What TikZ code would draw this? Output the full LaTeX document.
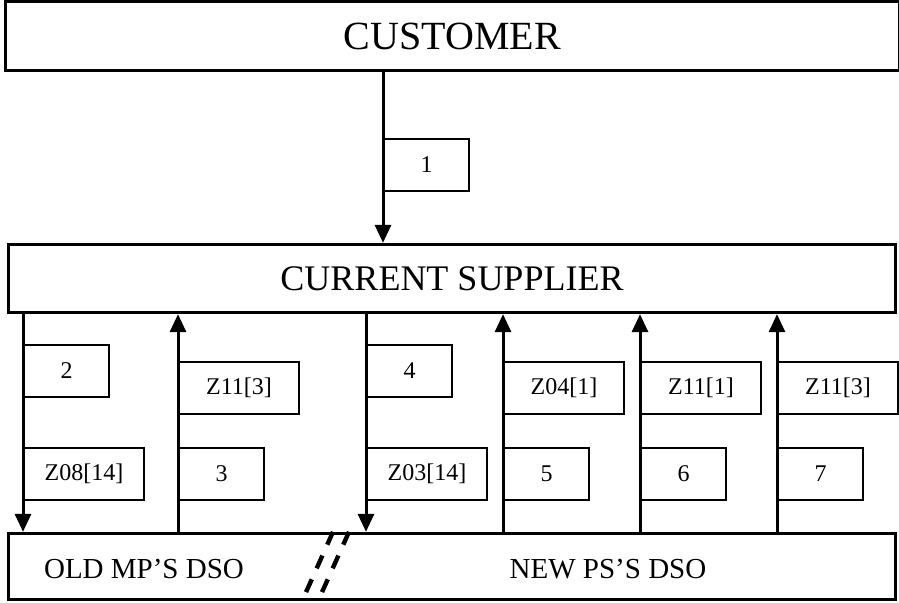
\documentclass[tikz,border=0pt]{standalone}
\usepackage{fontspec}
\setmainfont{Liberation Serif}
\usetikzlibrary{arrows.meta}
\tikzset{
party/.style={draw, line width=1.65pt, inner sep=0pt},
msg/.style={draw, line width=1pt, fill=white, inner sep=0pt, anchor=north west,
  minimum height=26pt, font=\fontsize{12}{14}\selectfont},
shortmsg/.style={msg, minimum width=42.5pt},
longmsg/.style={msg, minimum width=60pt},
flow/.style={line width=1.5pt, -{Triangle[width=8pt,length=9pt]}},
cut/.style={line width=2.2pt, dash pattern=on 7pt off 6pt}
}

\begin{document}
\begin{tikzpicture}[x=0.5pt, y=-0.5pt]
\useasboundingbox (0,0) rectangle (899,603);
% parties
\node[party, minimum width=447pt, minimum height=34.5pt, font=\fontsize{20}{24}\selectfont]
  (customer) at (452.5,36) {CUSTOMER};
\node[party, minimum width=443.5pt, minimum height=34pt, font=\fontsize{18}{22}\selectfont]
  (supplier) at (452,278.5) {CURRENT SUPPLIER};
\node[party, minimum width=443.5pt, minimum height=33pt] (dso) at (452,566.5) {};
\node[font=\fontsize{14.5}{17}\selectfont] (olddso) at (144,569) {OLD MP’S DSO};
\node[font=\fontsize{14.5}{17}\selectfont] (newdso) at (608,569) {NEW PS’S DSO};
\draw[cut] (dso.north -| 333,0) -- (dso.south -| 302,0);
\draw[cut] (dso.north -| 349,0) -- (dso.south -| 318,0);
% flow positions
\coordinate (f1) at (383,0);
\coordinate (f2) at (23,0);
\coordinate (f3) at (178,0);
\coordinate (f4) at (366,0);
\coordinate (f5) at (503,0);
\coordinate (f6) at (640,0);
\coordinate (f7) at (777,0);
% flows
\draw[flow] (customer.south -| f1) -- (supplier.north -| f1);
\draw[flow] (supplier.south -| f2) -- (dso.north -| f2);
\draw[flow] (dso.north -| f3) -- (supplier.south -| f3);
\draw[flow] (supplier.south -| f4) -- (dso.north -| f4);
\draw[flow] (dso.north -| f5) -- (supplier.south -| f5);
\draw[flow] (dso.north -| f6) -- (supplier.south -| f6);
\draw[flow] (dso.north -| f7) -- (supplier.south -| f7);
% messages
\node[shortmsg] (m1) at (383,138) {1};
\node[shortmsg] (m2) at (23,344) {2};
\node[longmsg] (z08) at (23,447) {Z08[14]};
\node[longmsg] (z11a) at (178,361) {Z11[3]};
\node[shortmsg] (m3) at (178,447) {3};
\node[shortmsg] (m4) at (366,344) {4};
\node[longmsg] (z03) at (366,447) {Z03[14]};
\node[longmsg] (z04) at (503,361) {Z04[1]};
\node[shortmsg] (m5) at (503,447) {5};
\node[longmsg] (z11b) at (640,361) {Z11[1]};
\node[shortmsg] (m6) at (640,447) {6};
\node[longmsg] (z11c) at (777,361) {Z11[3]};
\node[shortmsg] (m7) at (777,447) {7};
\end{tikzpicture}
\end{document}
